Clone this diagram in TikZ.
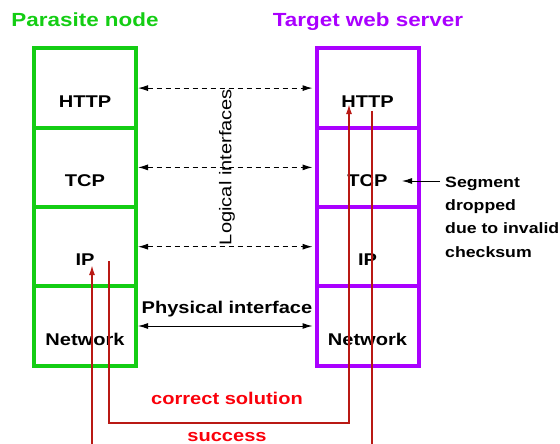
\documentclass[tikz,border=0pt]{standalone}
\usepackage{fontspec}
\setmainfont{Liberation Sans}[FakeStretch=1.18]
\usetikzlibrary{positioning,arrows.meta}

\definecolor{parasitegreen}{RGB}{20,205,20}
\definecolor{serverpurple}{RGB}{170,0,255}
\definecolor{pathred}{RGB}{185,25,20}
\definecolor{labelred}{RGB}{250,0,10}

\tikzset{
  layer/.style={draw, line width=4pt, minimum width=102pt, minimum height=79.3pt,
    inner sep=0pt, outer sep=0pt, text height=38pt, text depth=0pt,
    font=\bfseries\fontsize{17}{20}\selectfont},
  player/.style={layer, draw=parasitegreen},
  slayer/.style={layer, draw=serverpurple},
  logical/.style={<->, dash pattern=on 5pt off 4pt, line width=1pt,
    shorten <=2pt, shorten >=4pt},
  physical/.style={<->, line width=1pt, shorten <=2pt, shorten >=4pt},
  solution/.style={pathred, line width=1.6pt},
  boldtext/.style={font=\bfseries\fontsize{17}{20}\selectfont},
}

\begin{document}
\begin{tikzpicture}[x=1pt,y=-1pt,>={Latex[length=10pt,width=6pt]}]
  \useasboundingbox (0,0) rectangle (560,444);
  % titles
  \node[anchor=base, text=parasitegreen, font=\bfseries\fontsize{19}{22}\selectfont]
    (ptitle) at (85,27) {Parasite node};
  \node[anchor=base, text=serverpurple, font=\bfseries\fontsize{19}{22}\selectfont]
    (stitle) at (368,27) {Target web server};
  % parasite stack
  \node[player] (phttp) at (85,88.1) {HTTP};
  \node[player, below=0pt of phttp] (ptcp) {TCP};
  \node[player, below=0pt of ptcp] (pip) {IP};
  \node[player, below=0pt of pip] (pnet) {Network};
  % server stack
  \node[slayer] (shttp) at (367.5,88.1) {HTTP};
  \node[slayer, below=0pt of shttp] (stcp) {TCP};
  \node[slayer, below=0pt of stcp] (sip) {IP};
  \node[slayer, below=0pt of sip] (snet) {Network};
  % interfaces
  \draw[logical] (phttp.east) -- (shttp.west);
  \draw[logical] (ptcp.east) -- (stcp.west);
  \draw[logical] (pip.east) -- (sip.west);
  \draw[physical] (pnet.east) -- (snet.west);
  \node[rotate=90, font=\fontsize{17}{20}\selectfont] (logic) at (227,167) {Logical interfaces};
  \node[anchor=base, boldtext] (phys) at (227,313) {Physical interface};
  % dropped segment
  \node[anchor=base west, align=left, inner sep=0pt,
    font=\bfseries\fontsize{15}{23.3}\selectfont]
    (drop) at (445,257) {Segment\\dropped\\due to invalid\\checksum};
  \coordinate (droptip) at (402,181);
  \draw[->, line width=1pt] ([xshift=-5pt]drop.west |- droptip) -- (droptip);
  % red paths
  \coordinate (cs0) at (109,261);
  \coordinate (cs1) at (109,423);
  \coordinate (cs2) at (349,423);
  \coordinate (cs3) at (349,104);
  \draw[solution,->] (cs0) -- (cs1) -- (cs2) -- (cs3);
  \coordinate (su0) at (372,111);
  \coordinate (su1) at (372,444);
  \coordinate (su2) at (92,444);
  \coordinate (su3) at (92,265);
  \draw[solution] (su0) -- (su1);
  \draw[solution,->] (su2) -- (su3);
  \node[anchor=base, boldtext, text=labelred] (correct) at (227,404) {correct solution};
  \node[anchor=base, boldtext, text=labelred] (success) at (227,441) {success};
\end{tikzpicture}
\end{document}
